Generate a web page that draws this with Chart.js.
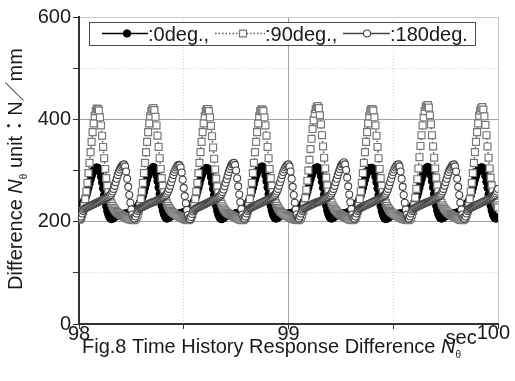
<!DOCTYPE html>
<html><head><meta charset="utf-8">
<script src="https://cdn.jsdelivr.net/npm/chart.js@4/dist/chart.umd.min.js"></script>
<style>html,body{margin:0;padding:0;background:#fff;}canvas{display:block;}</style>
</head><body>
<canvas id="c" width="515" height="381"></canvas>
<script>
// time axis: samples every 0.005 s starting at 98 s
const startTime = 98;
const sampleStep = 0.005;
const seriesNames = [':0deg.,', ':90deg.,', ':180deg.'];
const xTickLabels = {98: '98', 99: '99'};
const yTickLabels = {0: '0', 200: '200', 400: '400', 600: '600'};

const deg0 = [
224,226,229,233,237,241,245,251,258,266,274,282,289,295,300,303,305,306,
305,303,297,288,277,265,252,240,230,221,214,209,206,205,206,207,209,210,211,212,213,213,214,214,215,215,216,216,216,217,217,218,219,220,221,222,224,226,229,233,237,241,245,251,258,266,274,282,289,295,300,303,305,
307,305,299,290,279,267,254,242,231,222,215,210,207,206,207,208,210,211,212,213,214,214,215,215,216,216,217,217,218,218,219,220,221,222,224,226,229,233,237,241,245,251,258,266,274,282,289,295,300,303,304,305,
304,302,296,287,276,264,252,240,230,221,214,209,206,205,206,207,209,210,211,212,213,213,214,214,215,215,216,216,217,217,218,219,220,221,223,225,228,232,236,240,245,251,258,266,274,282,289,295,300,304,306,307,
308,306,300,290,279,267,254,242,231,222,215,210,207,206,207,208,210,211,212,213,214,214,215,215,216,216,216,217,217,218,218,219,220,221,222,224,226,229,233,237,241,245,251,258,266,274,282,289,295,300,303,305,306,
306,304,298,289,278,266,253,241,231,222,215,210,207,206,207,208,210,211,212,213,214,214,215,215,216,216,217,217,218,218,219,220,221,222,224,226,229,233,237,241,245,251,258,266,274,282,289,295,300,303,305,305,
305,303,297,288,277,265,252,240,230,221,214,209,206,205,206,207,209,210,211,212,213,213,214,214,215,215,216,216,216,217,217,218,219,220,221,222,224,226,229,233,237,241,245,251,258,266,274,282,289,295,300,304,306,
307,305,299,290,279,267,254,242,231,222,215,210,207,206,207,208,210,211,212,213,214,214,215,215,216,216,217,217,218,218,219,220,221,222,224,226,229,233,237,241,245,251,258,266,274,282,289,295,300,303,305,306,
306,304,298,289,278,266,253,241,231,222,215,210,207,206,207,208
];

const deg90 = [
204,206,209,214,221,231,244,259,276,295,315,336,356,375,392,406,416,421,
420,417,404,388,368,346,324,303,285,270,258,249,242,236,231,227,224,221,219,217,216,214,213,212,211,210,209,208,207,206,205,205,204,204,203,204,206,209,214,221,231,244,259,276,295,315,336,356,375,392,406,416,420,
422,418,405,388,368,346,324,303,285,270,258,249,242,236,231,227,224,221,219,217,216,214,213,212,211,210,209,208,207,206,205,204,204,203,204,206,209,214,221,231,244,259,276,295,315,336,356,375,392,406,416,420,
420,416,404,387,367,345,323,302,284,269,257,248,241,235,230,226,223,220,218,217,215,214,213,212,211,210,209,208,207,206,205,204,204,203,204,206,209,214,221,231,244,259,276,295,315,336,356,375,392,406,416,419,
419,416,404,388,368,346,324,303,285,270,258,249,242,236,231,227,224,221,219,217,216,214,213,212,211,210,209,208,207,206,205,205,204,204,203,204,206,209,214,221,232,246,262,280,300,321,342,362,381,398,411,420,424,
426,422,408,390,369,347,325,304,286,271,259,250,243,237,232,228,225,222,220,218,216,215,213,212,211,210,209,208,207,206,205,204,204,203,204,206,209,214,221,231,244,259,276,295,315,336,356,375,392,406,416,420,
420,417,404,388,368,346,324,303,285,270,258,249,242,236,231,227,224,221,219,217,216,214,213,212,211,210,209,208,207,206,205,205,204,204,203,204,206,209,214,221,232,247,264,283,304,326,348,369,388,404,416,424,427,
428,423,408,390,369,347,325,304,286,271,259,250,243,237,232,228,225,222,220,218,216,215,213,212,211,210,209,208,207,206,205,204,204,203,204,206,209,214,221,231,244,259,276,295,315,336,356,375,392,407,417,422,
424,419,406,389,369,347,325,304,286,271,259,250,243,237,232,228
];

const deg180 = [
208,206,210,216,221,224,226,227,228,229,230,231,232,233,234,235,236,237,238,239,240,241,242,243,244,245,246,247,248,250,252,255,259,264,270,277,284,291,297,302,306,309,311,
312,308,298,284,268,252,237,224,214,208,206,210,216,221,224,226,227,228,229,230,231,232,233,234,235,236,237,238,238,239,240,241,242,243,244,245,246,247,248,250,252,255,259,264,270,277,284,291,297,302,306,309,311,
310,306,296,282,266,250,236,223,213,207,205,209,215,220,223,225,226,227,228,229,230,231,232,233,234,235,236,237,238,239,240,241,242,243,244,245,246,247,249,251,254,258,263,269,276,283,290,297,303,308,312,314,
315,311,300,285,269,253,238,225,214,208,206,210,216,221,224,226,227,228,229,230,231,232,233,234,235,236,237,238,239,240,241,242,243,244,245,246,247,248,250,252,255,259,264,270,277,284,291,297,302,306,309,311,
312,308,298,284,268,252,237,224,214,208,206,210,216,221,224,226,227,228,229,230,231,232,233,234,235,236,237,238,238,239,240,241,242,243,244,245,246,247,248,250,252,255,259,264,270,277,284,291,297,303,308,312,314,
316,312,301,286,269,253,238,225,214,208,206,210,216,221,224,226,227,228,229,230,231,232,233,234,235,236,237,238,239,240,241,242,243,244,245,246,247,248,250,252,255,259,264,270,277,284,291,297,302,306,309,311,
312,308,298,284,268,252,237,224,214,208,206,210,216,221,224,226,227,228,229,230,231,232,233,234,235,236,237,238,238,239,240,241,242,243,244,245,246,247,248,250,252,255,259,264,270,277,284,291,297,302,306,309,311,
312,308,298,284,268,252,237,224,214,208,206,210,216,221,224,226,227,228,229,230,231,232,233,234,235,236,237,238,239,240,241,242,243,244,245,246,247,248,250,252,255,259,264
];

const FONT = '"Liberation Sans", Arial, sans-serif';
const FONT_JP = '"Liberation Sans", "Noto Sans CJK JP", sans-serif';
const toPoints = arr => arr.map((v, i) => ({x: startTime + i * sampleStep, y: v}));

const styles = [
  {line: '#000', lw: 1, dash: [], point: 'circle', r: 3.7, fill: '#000', stroke: '#000', bw: 1},
  {line: '#555', lw: 1.4, dash: [1.5, 2], point: 'rect', r: 4.9, fill: '#fff', stroke: '#777', bw: 1.2},
  {line: '#444', lw: 1, dash: [], point: 'circle', r: 3.5, fill: '#fff', stroke: '#444', bw: 1.1}
];
const seriesData = [deg0, deg90, deg180];
const drawOrder = [3, 2, 1];

function isMinor(v) { return Math.abs(v - Math.round(v / 200) * 200) > 1e-6; }
function hColor(c) {
  const v = c.tick ? c.tick.value : null;
  if (v === null || v === 0) return 'rgba(0,0,0,0)';
  if (v === 600) return '#c6c6c6';
  return isMinor(v) ? '#d2d2d2' : '#a3a3a3';
}
function hDash(c) {
  const v = c.tick ? c.tick.value : null;
  return (v !== null && isMinor(v)) ? [1, 2] : [];
}
function vMinor(v) { return Math.abs(v - Math.round(v)) > 1e-6; }
function vColor(c) {
  const v = c.tick ? c.tick.value : null;
  if (v === null || Math.abs(v - 98) < 1e-6) return 'rgba(0,0,0,0)';
  if (Math.abs(v - 100) < 1e-6) return '#c6c6c6';
  return vMinor(v) ? '#d2d2d2' : '#a3a3a3';
}
function vDash(c) {
  const v = c.tick ? c.tick.value : null;
  return (v !== null && vMinor(v)) ? [1, 2] : [];
}

function drawRich(ctx, x, y, parts) {
  let cx = x;
  for (const p of parts) {
    ctx.font = p.font;
    ctx.fillText(p.text, cx, y + (p.dy || 0));
    cx += ctx.measureText(p.text).width;
  }
  return cx;
}

function drawMarker(ctx, st, x, y) {
  ctx.save();
  ctx.setLineDash([]);
  ctx.fillStyle = st.fill; ctx.strokeStyle = st.stroke; ctx.lineWidth = st.bw;
  ctx.beginPath();
  if (st.point === 'rect') {
    const s = st.r * Math.SQRT1_2;
    ctx.rect(x - s, y - s, 2 * s, 2 * s);
  } else {
    ctx.arc(x, y, st.r, 0, Math.PI * 2);
  }
  ctx.fill(); ctx.stroke();
  ctx.restore();
}

const annotations = {
  id: 'annotations',
  afterDraw(chart) {
    const ctx = chart.ctx;
    const xs = chart.scales.x;
    ctx.save();
    ctx.fillStyle = '#1a1a1a';
    ctx.textBaseline = 'alphabetic';
    // "sec" and "100" at the right end of the x axis
    const px100 = xs.getPixelForValue(100);
    ctx.font = '20px ' + FONT;
    ctx.textAlign = 'right';
    ctx.fillText('100', px100 + 12, 339);
    const w100 = ctx.measureText('100').width;
    ctx.fillText('sec', px100 + 12 - w100, 344);
    ctx.textAlign = 'left';
    // caption
    drawRich(ctx, 82, 353, [
      {text: 'Fig.8 Time History Response Difference ', font: '20px ' + FONT},
      {text: 'N', font: 'italic 20px ' + FONT},
      {text: '\u03b8', font: '10px ' + FONT, dy: 5}
    ]);
    // y title (rotated)
    ctx.save();
    ctx.translate(22, 290);
    ctx.rotate(-Math.PI / 2);
    drawRich(ctx, 0, 0, [
      {text: 'Difference ', font: '20px ' + FONT},
      {text: 'N', font: 'italic 20px ' + FONT},
      {text: '\u03b8', font: '10px ' + FONT, dy: 5},
      {text: ' unit\uff1aN\uff0fmm', font: '20px ' + FONT_JP}
    ]);
    ctx.restore();
    // legend
    ctx.fillStyle = '#fff';
    ctx.fillRect(89.5, 22.5, 386, 23);
    ctx.strokeStyle = '#4a4a4a'; ctx.lineWidth = 1;
    ctx.strokeRect(89.5, 22.5, 386, 23);
    const entries = [
      {l0: 102, l1: 148, m: 127, tx: 148},
      {l0: 215, l1: 265, m: 243, tx: 265},
      {l0: 343, l1: 390, m: 367, tx: 390}
    ];
    entries.forEach((e, i) => {
      const st = styles[i];
      ctx.save();
      ctx.strokeStyle = st.line; ctx.lineWidth = st.lw + 0.3; ctx.setLineDash(st.dash);
      ctx.beginPath(); ctx.moveTo(e.l0, 33.5); ctx.lineTo(e.l1, 33.5); ctx.stroke();
      ctx.restore();
      drawMarker(ctx, st, e.m, 33.5);
      ctx.fillStyle = '#1a1a1a';
      ctx.font = '20px ' + FONT;
      ctx.fillText(seriesNames[i], e.tx, 40.5);
    });
    ctx.restore();
  }
};

new Chart(document.getElementById('c'), {
  type: 'line',
  data: {
    datasets: seriesData.map((arr, i) => ({
      label: seriesNames[i],
      data: toPoints(arr),
      borderColor: styles[i].line,
      borderWidth: styles[i].lw,
      borderDash: styles[i].dash,
      pointStyle: styles[i].point,
      pointRadius: styles[i].r,
      pointBackgroundColor: styles[i].fill,
      pointBorderColor: styles[i].stroke,
      pointBorderWidth: styles[i].bw,
      tension: 0,
      fill: false,
      order: drawOrder[i]
    }))
  },
  options: {
    responsive: false,
    animation: false,
    devicePixelRatio: 1,
    layout: {padding: {left: 0, right: 17, top: 17, bottom: 0}},
    plugins: {legend: {display: false}, tooltip: {enabled: false}},
    scales: {
      x: {
        type: 'linear', min: 98, max: 100,
        afterFit(s) { s.height = 57; },
        ticks: {
          stepSize: 0.5, autoSkip: false, maxRotation: 0, padding: -7,
          color: '#1a1a1a', font: {family: FONT, size: 20},
          callback: v => xTickLabels[v] !== undefined ? xTickLabels[v] : ''
        },
        grid: {color: vColor, lineWidth: 1, drawTicks: true, tickLength: 5, tickColor: '#333', borderDash: vDash},
        border: {display: true, color: '#333', width: 2, dash: vDash}
      },
      y: {
        type: 'linear', min: 0, max: 600,
        afterFit(s) { s.width = 79; },
        ticks: {
          stepSize: 100, autoSkip: false, padding: 2,
          color: '#1a1a1a', font: {family: FONT, size: 20},
          callback: v => yTickLabels[v] !== undefined ? yTickLabels[v] : ''
        },
        grid: {color: hColor, lineWidth: 1, drawTicks: true, tickLength: 6, tickColor: '#333', borderDash: hDash},
        border: {display: true, color: '#333', width: 2, dash: hDash}
      }
    }
  },
  plugins: [annotations]
});
</script>
</body></html>
